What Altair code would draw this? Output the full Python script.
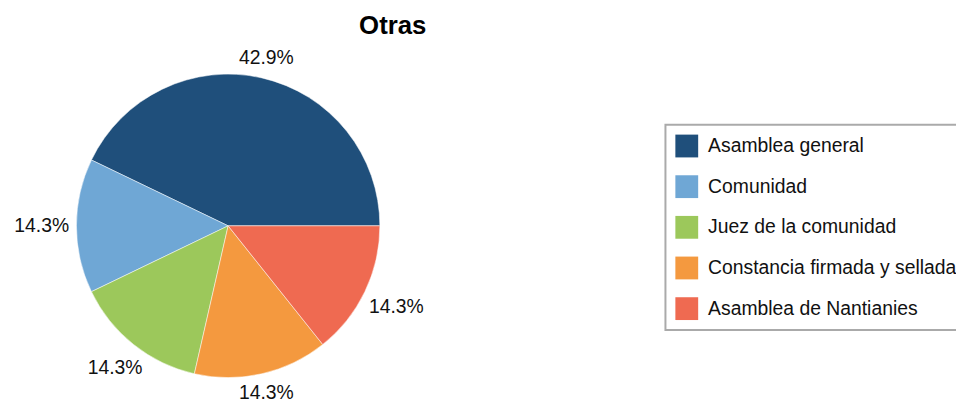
import math
import altair as alt
import pandas as pd

categories = ["Asamblea general", "Comunidad", "Juez de la comunidad",
              "Constancia firmada y sellada", "Asamblea de Nantianies"]
counts = [3, 1, 1, 1, 1]
colors = ["#1f4f7b", "#6fa7d5", "#9cc85b", "#f4993f", "#ef6a51"]

df = pd.DataFrame({"cat": categories, "count": counts, "idx": list(range(len(categories)))})

CX, CY, R = 222, 178, 153
theta_scale = alt.Scale(range=[2.5 * math.pi, 0.5 * math.pi])

base = alt.Chart(df).transform_joinaggregate(
    total="sum(count)"
).transform_window(
    cum="sum(count)", sort=[alt.SortField("idx")], frame=[None, 0]
).transform_calculate(
    pct="datum.count / datum.total",
    ang="2 * PI * (datum.cum - datum.count / 2) / datum.total",
).transform_calculate(
    lr="160 + 28 * abs(cos(datum.ang)) + 7 * abs(sin(datum.ang))",
    th="PI / 2 - datum.ang",
)

pie = base.mark_arc(stroke="white", strokeWidth=0.5).encode(
    theta=alt.Theta("count:Q", stack=True, scale=theta_scale),
    order=alt.Order("idx:Q"),
    color=alt.Color(
        "cat:N",
        sort=categories,
        scale=alt.Scale(domain=categories, range=colors),
        legend=alt.Legend(
            title=None,
            orient="none",
            legendX=663,
            legendY=76,
            symbolType="square",
            symbolSize=529,
            symbolStrokeWidth=0,
            labelFontSize=19.5,
            labelFont="Liberation Sans",
            labelColor="#111111",
            labelOffset=10,
            rowPadding=18,
            padding=10,
            strokeColor="#aaaaaa",
            fillColor="white",
            labelLimit=400,
        ),
    ),
    radius=alt.value(R),
    x=alt.value(CX),
    y=alt.value(CY),
)

labels = base.mark_text(
    font="Liberation Sans", fontSize=19.5, color="#111111", align="center", baseline="middle"
).encode(
    theta=alt.Theta("th:Q", scale=None, stack=False),
    radius=alt.Radius("lr:Q", scale=None),
    text=alt.Text("pct:Q", format=".1%"),
    x=alt.value(CX),
    y=alt.value(CY),
)

chart = alt.layer(pie, labels).properties(
    width=956,
    height=357,
    autosize=alt.AutoSizeParams(type="none"),
    padding={"left": 0, "top": 40, "right": 0, "bottom": 0},
    title=alt.TitleParams(
        text="Otras", font="Liberation Sans", fontSize=26, fontWeight="bold",
        color="#000000", anchor="middle", dx=-90, dy=-6
    ),
).configure_view(stroke=None).configure_legend(strokeWidth=2)

chart.save("out.html", embed_options={"renderer": "svg", "actions": False})
